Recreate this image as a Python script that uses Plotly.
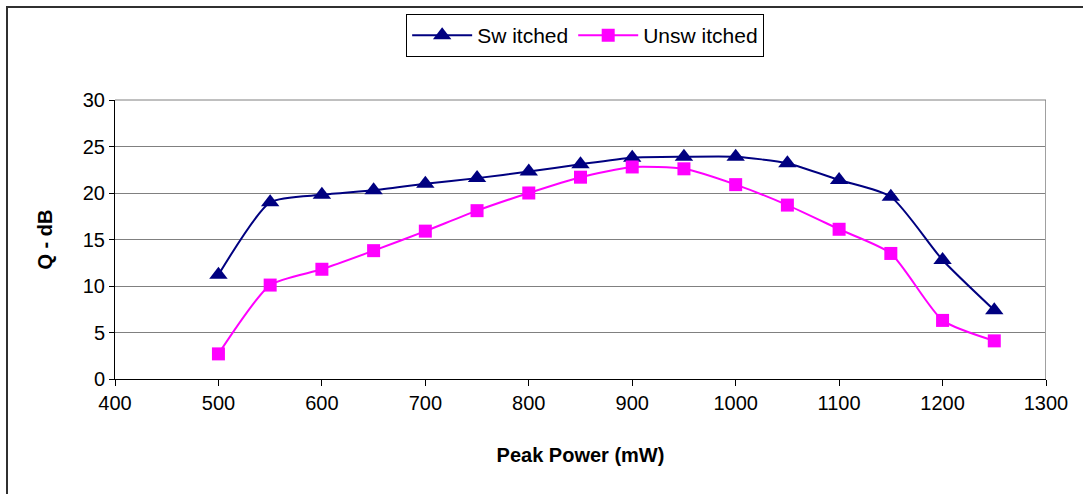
import plotly.graph_objects as go

power = [500, 550, 600, 650, 700, 750, 800, 850, 900, 950, 1000, 1050, 1100, 1150, 1200, 1250]
switched = [11.2, 19.0, 19.8, 20.3, 21.0, 21.6, 22.3, 23.1, 23.8, 23.9, 23.9, 23.2, 21.4, 19.6, 12.8, 7.4]
unswitched = [2.7, 10.1, 11.8, 13.8, 15.9, 18.1, 20.0, 21.7, 22.8, 22.6, 20.9, 18.7, 16.1, 13.5, 6.3, 4.1]

x_ticks = [400, 500, 600, 700, 800, 900, 1000, 1100, 1200, 1300]
y_ticks = [0, 5, 10, 15, 20, 25, 30]

FONT = "Liberation Sans, Arial, sans-serif"

fig = go.Figure()
fig.add_trace(go.Scatter(
    x=power, y=switched, name="Sw itched", mode="lines+markers",
    line=dict(color="#000080", width=2, shape="spline", smoothing=0.6),
    marker=dict(symbol="triangle-up", size=16, color="#000080"),
))
fig.add_trace(go.Scatter(
    x=power, y=unswitched, name="Unsw itched", mode="lines+markers",
    line=dict(color="#FF00FF", width=2, shape="spline", smoothing=0.6),
    marker=dict(symbol="square", size=13, color="#FF00FF"),
))

fig.update_layout(
    width=1083, height=494,
    margin=dict(l=115, r=37, t=100, b=115),
    paper_bgcolor="white", plot_bgcolor="white",
    font=dict(family=FONT, size=20, color="black"),
    showlegend=True,
    legend=dict(
        orientation="h", x=0.505, xanchor="center", y=1.0 + (100 - 14) / 279, yanchor="top",
        bordercolor="black", borderwidth=1, bgcolor="white",
        font=dict(family=FONT, size=21), itemwidth=60,
    ),
    xaxis=dict(
        range=[400, 1300], tickvals=x_ticks, ticktext=[str(v) for v in x_ticks],
        showgrid=False, showline=True, linecolor="black", linewidth=1,
        ticks="outside", ticklen=6, tickcolor="black", mirror=False,
        tickfont=dict(family=FONT, size=20),
        title=dict(text="<b>Peak Power (mW)</b>", font=dict(family=FONT, size=20), standoff=34),
        zeroline=False,
    ),
    yaxis=dict(
        range=[0, 30], tickvals=y_ticks, ticktext=[str(v) for v in y_ticks],
        showgrid=True, gridcolor="#808080", gridwidth=1,
        showline=True, linecolor="black", linewidth=1,
        ticks="outside", ticklen=5, tickcolor="black",
        tickfont=dict(family=FONT, size=20),
        title=dict(text="<b>Q - dB</b>", font=dict(family=FONT, size=20), standoff=24),
        zeroline=False,
    ),
    shapes=[
        dict(type="line", xref="x", yref="paper", x0=1300, x1=1300, y0=0, y1=1,
             line=dict(color="#A0A0A0", width=2)),
        dict(type="line", xref="x", yref="paper", x0=400, x1=1300, y0=1, y1=1,
             line=dict(color="#808080", width=1)),
        dict(type="rect", xref="paper", yref="paper",
             x0=(7 - 115) / 931, x1=(1090 - 115) / 931,
             y0=(379 - 500) / 279, y1=(379 - 7) / 279,
             line=dict(color="#303030", width=2), fillcolor="rgba(0,0,0,0)", layer="below"),
    ],
)

fig.write_html("out.html")
